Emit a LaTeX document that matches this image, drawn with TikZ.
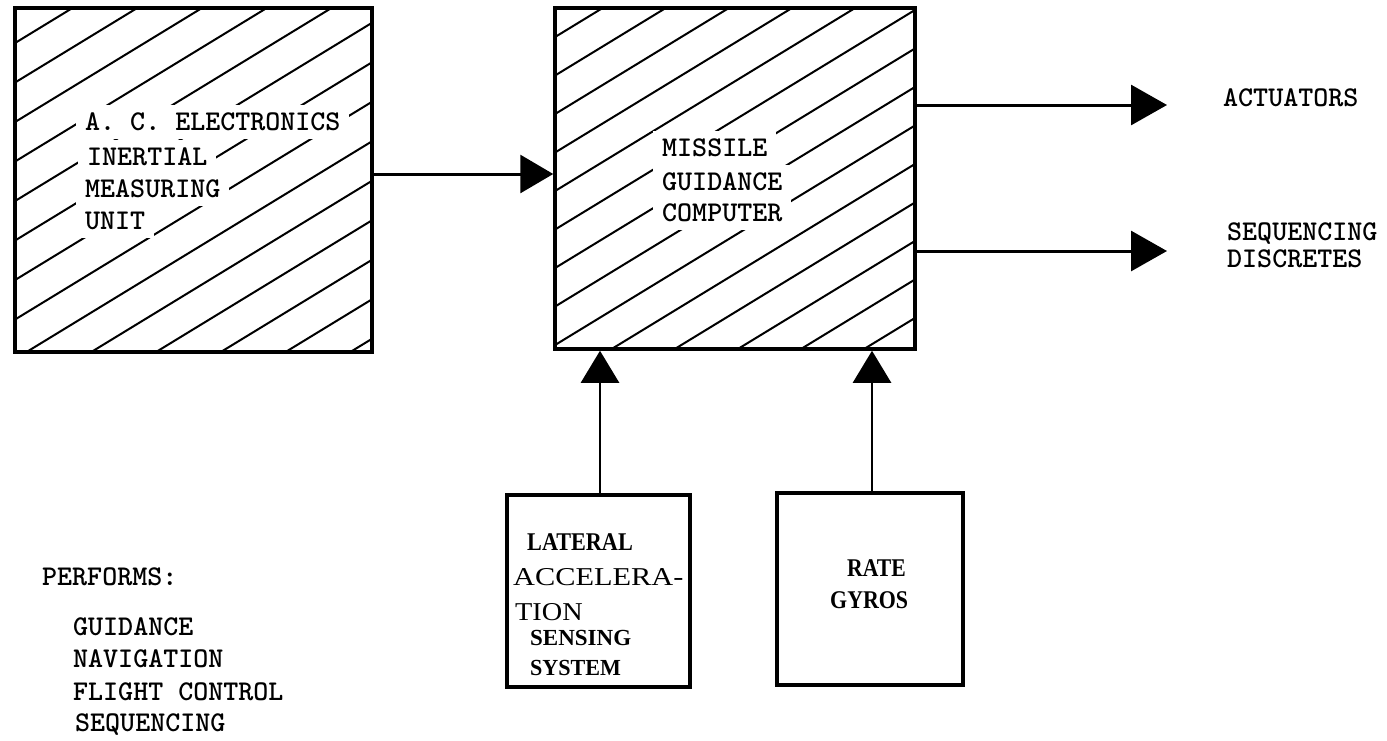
\documentclass[tikz,border=0pt]{standalone}
\usepackage{fontspec}
\newfontfamily\serifL{Liberation Serif}
\usetikzlibrary{arrows.meta}
\begin{document}
\begin{tikzpicture}[x=1pt,y=-1pt,
  box/.style={draw, line width=3.5pt, inner sep=0pt},
  hatch/.style={line width=2pt},
  tw/.style={font=\ttfamily\bfseries\fontsize{28.6}{33}\selectfont, text height=17.5pt, text depth=0pt, inner xsep=9pt, inner ysep=8pt, fill=white, anchor=west},
  lbl/.style={font=\ttfamily\bfseries\fontsize{28.6}{33}\selectfont, text height=17.5pt, text depth=0pt, inner sep=0pt, anchor=west},
  sr/.style={font=\serifL\fontsize{25.7}{28}\selectfont, text height=17pt, text depth=0pt, inner sep=0pt, anchor=west},
  srb/.style={font=\serifL\bfseries\fontsize{25.5}{28}\selectfont, text height=16.9pt, text depth=0pt, inner sep=0pt, anchor=west},
  srs/.style={font=\serifL\bfseries\fontsize{23}{26}\selectfont, text height=15.2pt, text depth=0pt, inner sep=0pt, anchor=west},
  conn/.style={line width=3pt, -{Triangle[length=33pt,width=38pt]}},
  outconn/.style={line width=3pt, -{Triangle[length=36pt,width=40pt]}},
  upconn/.style={line width=2.5pt, -{Triangle[length=32pt,width=38pt]}}
]
\useasboundingbox[fill=white] (0,0) rectangle (1387,740);

% main boxes
\node[box, minimum width=357pt, minimum height=344pt] (imu) at (193.5,180) {};
\node[box, minimum width=360pt, minimum height=341pt] (mgc) at (735,178.5) {};

% hatching
\begin{scope}
  \clip (imu.south west) rectangle (imu.north east);
  \foreach \k in {-1,...,15} \draw[hatch] (0,52.2+39.5*\k) -- ++(450,-274.5);
\end{scope}
\begin{scope}
  \clip (mgc.south west) rectangle (mgc.north east);
  \foreach \k in {-1,...,15} \draw[hatch] (540,46.2+38.5*\k) -- ++(450,-274.5);
\end{scope}
\node[box, minimum width=357pt, minimum height=344pt] at (imu.center) {};
\node[box, minimum width=360pt, minimum height=341pt] at (mgc.center) {};

% box texts
\node[tw] (t1a) at (76,122) {A. C. ELECTRONICS};
\node[tw] (t1b) at (78,157) {INERTIAL};
\node[tw] (t1c) at (76,189) {MEASURING};
\node[tw] (t1d) at (76,221) {UNIT};

\node[tw] (t2a) at (653,148) {MISSILE};
\node[tw] (t2b) at (653,182) {GUIDANCE};
\node[tw] (t2c) at (653,213) {COMPUTER};

% lower boxes
\node[box, minimum width=183pt, minimum height=192pt] (lat) at (598.5,591) {};
\node[box, minimum width=186pt, minimum height=192pt] (rate) at (870,589) {};

\node[srb] (l1) at (527,542) {\scalebox{0.87}[1]{LATERAL}};
\node[sr] (l2) at (513,577) {\scalebox{1.18}[1]{ACCELERA-}};
\node[sr] (l3) at (515,612) {\scalebox{1.1}[1]{TION}};
\node[srs] (l4) at (530,638) {SENSING};
\node[srs] (l5) at (530,668) {\scalebox{0.96}[1]{SYSTEM}};

\node[srb] (r1) at (847,568) {\scalebox{0.85}[1]{RATE}};
\node[srb] (r2) at (830,600) {\scalebox{0.86}[1]{GYROS}};

% outputs
\coordinate (actend) at (1167,105);
\coordinate (seqend) at (1167,251);
\node[lbl] (act) at (1223,98) {ACTUATORS};
\node[lbl] (seq1) at (1227,232) {SEQUENCING};
\node[lbl] (seq2) at (1227,259) {DISCRETES};

% performs list
\node[lbl] (perf) at (42,577) {PERFORMS:};
\node[lbl] (p1) at (73,627) {GUIDANCE};
\node[lbl] (p2) at (73,659) {NAVIGATION};
\node[lbl] (p3) at (73,692) {FLIGHT CONTROL};
\node[lbl] (p4) at (75,723) {SEQUENCING};

% connectors
\coordinate (ly) at (0,174);
\coordinate (lx) at (600,0);
\coordinate (rx) at (872,0);
\draw[conn] (imu.east |- ly) -- (mgc.west |- ly);
\draw[outconn] (mgc.east |- actend) -- (actend);
\draw[outconn] (mgc.east |- seqend) -- (seqend);
\draw[upconn] (lat.north -| lx) -- (mgc.south -| lx);
\draw[upconn] (rate.north -| rx) -- (mgc.south -| rx);
\end{tikzpicture}
\end{document}
